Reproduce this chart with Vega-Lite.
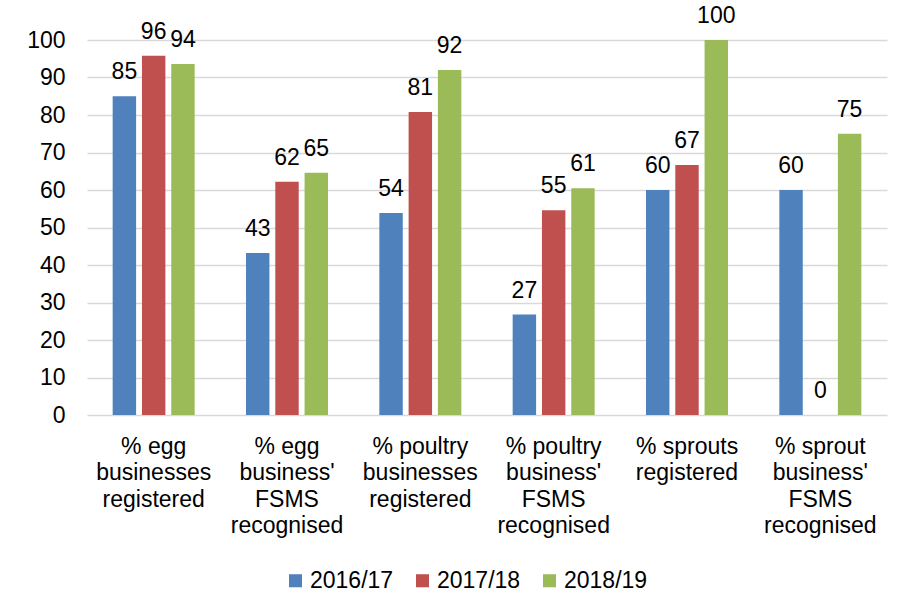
{
  "$schema": "https://vega.github.io/schema/vega-lite/v6.json",
  "width": 800,
  "height": 375,
  "autosize": {"type": "none"},
  "padding": {"left": 87, "top": 40, "right": 14, "bottom": 192},
  "background": "white",
  "config": {
    "font": "Liberation Sans",
    "view": {"stroke": null},
    "axis": {"labelFont": "Liberation Sans", "labelColor": "#000000", "labelFontSize": 23}
  },
  "data": {
    "values": [
      {"category": "% egg\nbusinesses\nregistered", "year": "2016/17", "value": 85},
      {"category": "% egg\nbusinesses\nregistered", "year": "2017/18", "value": 95.8},
      {"category": "% egg\nbusinesses\nregistered", "year": "2018/19", "value": 93.6},
      {"category": "% egg\nbusiness'\nFSMS\nrecognised", "year": "2016/17", "value": 43.2},
      {"category": "% egg\nbusiness'\nFSMS\nrecognised", "year": "2017/18", "value": 62.2},
      {"category": "% egg\nbusiness'\nFSMS\nrecognised", "year": "2018/19", "value": 64.6},
      {"category": "% poultry\nbusinesses\nregistered", "year": "2016/17", "value": 53.9},
      {"category": "% poultry\nbusinesses\nregistered", "year": "2017/18", "value": 80.8},
      {"category": "% poultry\nbusinesses\nregistered", "year": "2018/19", "value": 92},
      {"category": "% poultry\nbusiness'\nFSMS\nrecognised", "year": "2016/17", "value": 26.8},
      {"category": "% poultry\nbusiness'\nFSMS\nrecognised", "year": "2017/18", "value": 54.6},
      {"category": "% poultry\nbusiness'\nFSMS\nrecognised", "year": "2018/19", "value": 60.5},
      {"category": "% sprouts\nregistered", "year": "2016/17", "value": 60},
      {"category": "% sprouts\nregistered", "year": "2017/18", "value": 66.7},
      {"category": "% sprouts\nregistered", "year": "2018/19", "value": 100},
      {"category": "% sprout\nbusiness'\nFSMS\nrecognised", "year": "2016/17", "value": 60},
      {"category": "% sprout\nbusiness'\nFSMS\nrecognised", "year": "2017/18", "value": 0},
      {"category": "% sprout\nbusiness'\nFSMS\nrecognised", "year": "2018/19", "value": 75}
    ]
  },
  "encoding": {
    "x": {
      "field": "category",
      "type": "nominal",
      "sort": null,
      "title": null,
      "scale": {"paddingInner": 0.385, "paddingOuter": 0.1925},
      "axis": {
        "labelAngle": 0,
        "labelExpr": "split(datum.value, '\\n')",
        "labelLineHeight": 26.5,
        "labelBaseline": "top",
        "labelPadding": 20,
        "labelLimit": 200,
        "domain": false,
        "ticks": false,
        "grid": false
      }
    },
    "xOffset": {
      "field": "year",
      "type": "nominal",
      "scale": {"paddingInner": 0.2, "paddingOuter": 0}
    },
    "y": {
      "field": "value",
      "type": "quantitative",
      "title": null,
      "scale": {"domain": [0, 100], "nice": false},
      "axis": {
        "values": [0, 10, 20, 30, 40, 50, 60, 70, 80, 90, 100],
        "domain": false,
        "ticks": false,
        "labelPadding": 22,
        "grid": true,
        "gridColor": "#d9d9d9",
        "gridWidth": 1.5
      }
    }
  },
  "layer": [
    {
      "mark": {"type": "bar"},
      "encoding": {
        "color": {
          "field": "year",
          "type": "nominal",
          "scale": {"domain": ["2016/17", "2017/18", "2018/19"], "range": ["#4F81BD", "#C0504D", "#9BBB59"]},
          "legend": {
            "title": null,
            "orient": "none",
            "legendX": 197,
            "legendY": 529,
            "direction": "horizontal",
            "symbolType": "square",
            "symbolSize": 170,
            "symbolStrokeWidth": 0,
            "labelFontSize": 23,
            "labelColor": "#000000",
            "labelOffset": 3,
            "columnPadding": 17
          }
        }
      }
    },
    {
      "mark": {"type": "text", "baseline": "alphabetic", "dy": -17, "fontSize": 23, "color": "#000000"},
      "encoding": {
        "text": {"field": "value", "type": "quantitative", "format": ".0f"}
      }
    }
  ]
}
